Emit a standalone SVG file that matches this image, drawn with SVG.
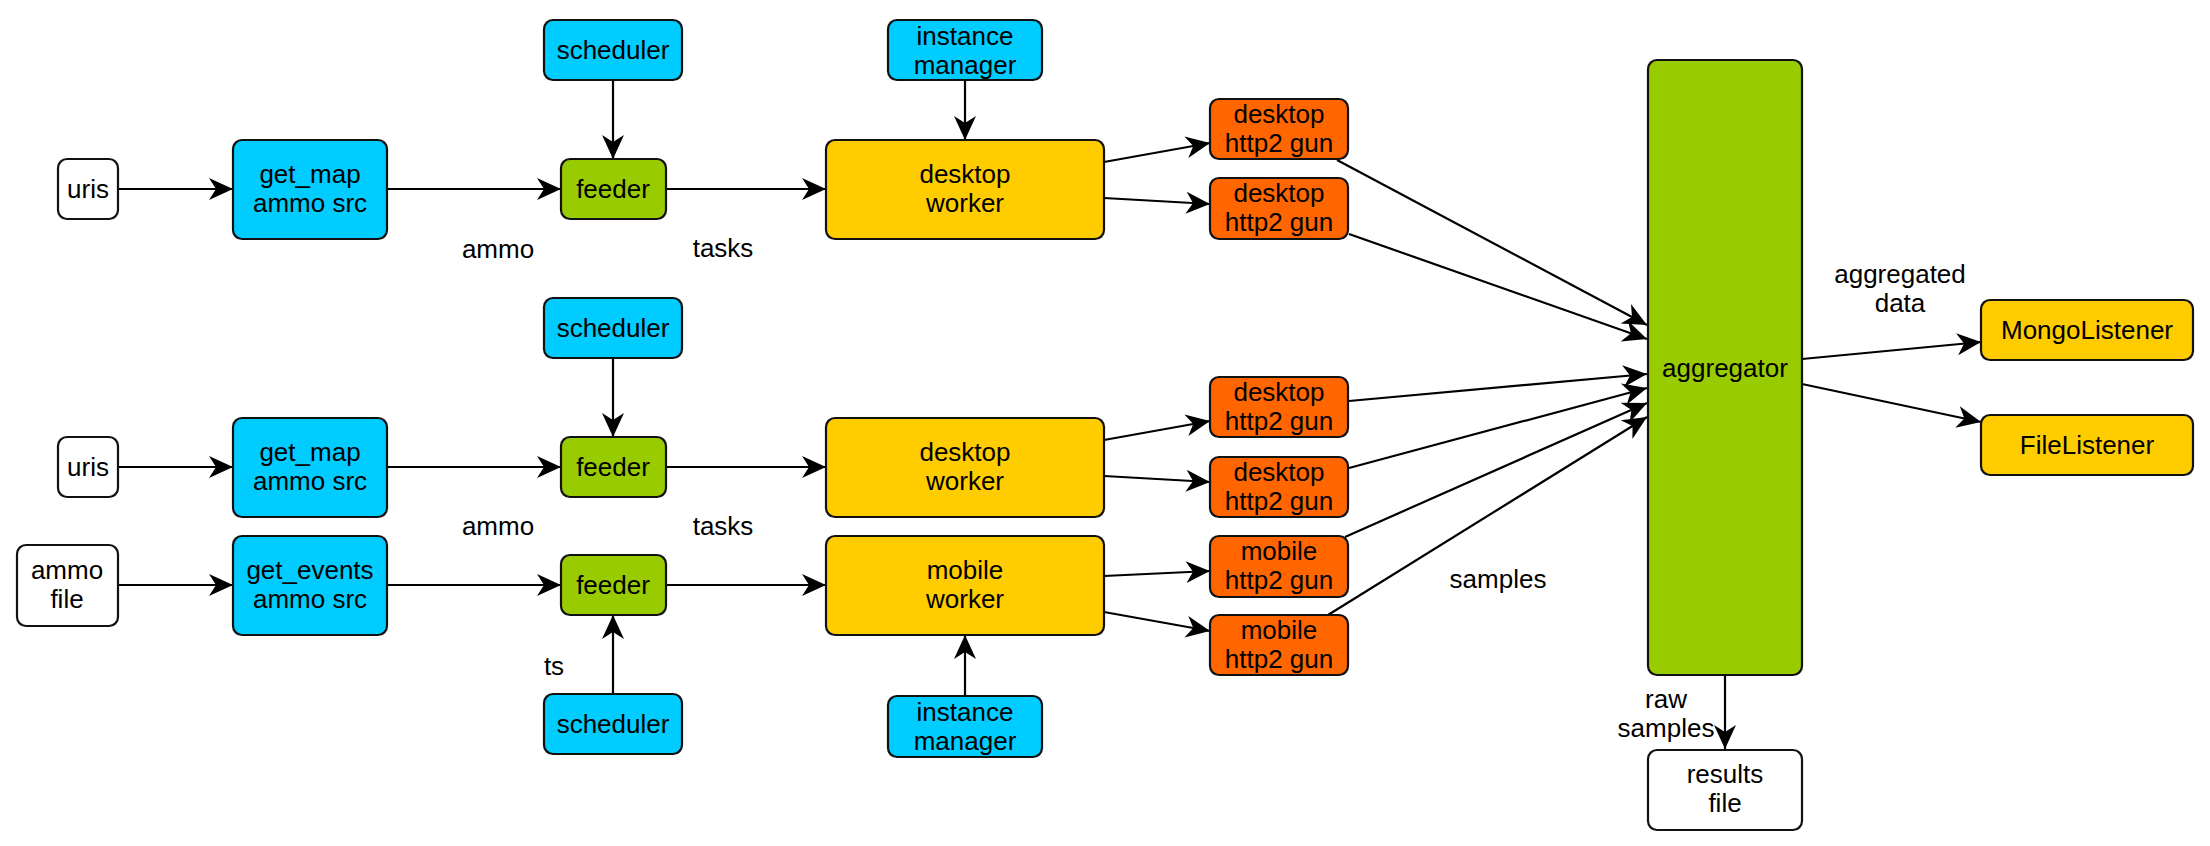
<svg xmlns="http://www.w3.org/2000/svg" width="2210" height="846" viewBox="0 0 2210 846">
<defs>
<marker id="ah" markerUnits="userSpaceOnUse" markerWidth="26" markerHeight="22" refX="24" refY="11" orient="auto" overflow="visible">
<path d="M0,0 L24,11 L0,22 L7,11 Z" fill="#000"/>
</marker>
<style>
.n rect{stroke:#111;stroke-width:2.2}
.w{fill:#fff}.c{fill:#00ccff}.g{fill:#99cc00}.o{fill:#ff6600}.y{fill:#ffcc00}
text{font-family:"Liberation Sans",Arial,sans-serif;font-size:26px;fill:#000;text-anchor:middle}
.e line{stroke:#000;stroke-width:2.2;marker-end:url(#ah)}
</style>
</defs>
<rect width="2210" height="846" fill="#fff"/>
<g class="e" id="connectors">
<line x1="118" y1="189" x2="233" y2="189"/>
<line x1="387" y1="189" x2="561" y2="189"/>
<line x1="666" y1="189" x2="826" y2="189"/>
<line x1="613" y1="80" x2="613" y2="159"/>
<line x1="965" y1="80" x2="965" y2="140"/>
<line x1="1104" y1="162" x2="1210" y2="143"/>
<line x1="1104" y1="198" x2="1210" y2="204"/>
<line x1="118" y1="467" x2="233" y2="467"/>
<line x1="387" y1="467" x2="561" y2="467"/>
<line x1="666" y1="467" x2="826" y2="467"/>
<line x1="613" y1="358" x2="613" y2="437"/>
<line x1="118" y1="585" x2="233" y2="585"/>
<line x1="387" y1="585" x2="561" y2="585"/>
<line x1="666" y1="585" x2="826" y2="585"/>
<line x1="613" y1="694" x2="613" y2="615"/>
<line x1="965" y1="696" x2="965" y2="635"/>
<line x1="1104" y1="440" x2="1210" y2="421"/>
<line x1="1104" y1="476" x2="1210" y2="482"/>
<line x1="1104" y1="576" x2="1210" y2="571"/>
<line x1="1104" y1="612" x2="1210" y2="631"/>
<line x1="1337" y1="160" x2="1647" y2="325"/>
<line x1="1349" y1="234" x2="1647" y2="339"/>
<line x1="1349" y1="401" x2="1647" y2="374"/>
<line x1="1349" y1="468" x2="1647" y2="388"/>
<line x1="1345" y1="537" x2="1647" y2="403"/>
<line x1="1328" y1="615" x2="1647" y2="417"/>
<line x1="1802" y1="359" x2="1981" y2="342"/>
<line x1="1802" y1="384" x2="1981" y2="422"/>
<line x1="1725" y1="675" x2="1725" y2="749"/>
</g>
<g id="edge-labels">
<text x="498" y="258">ammo</text>
<text x="723" y="257">tasks</text>
<text x="498" y="535">ammo</text>
<text x="723" y="535">tasks</text>
<text x="554" y="675">ts</text>
<text x="1498" y="588">samples</text>
<text x="1900" y="283">aggregated</text>
<text x="1900" y="312">data</text>
<text x="1666" y="708">raw</text>
<text x="1666" y="737">samples</text>
</g>
<g class="n" id="uris1"><rect class="w" x="58" y="159" width="60" height="60" rx="9"/><text x="88" y="198">uris</text></g>
<g class="n" id="getmap1"><rect class="c" x="233" y="140" width="154" height="99" rx="9"/><text x="310" y="183">get_map</text><text x="310" y="212">ammo src</text></g>
<g class="n" id="scheduler1"><rect class="c" x="544" y="20" width="138" height="60" rx="9"/><text x="613" y="59">scheduler</text></g>
<g class="n" id="feeder1"><rect class="g" x="561" y="159" width="105" height="60" rx="9"/><text x="613" y="198">feeder</text></g>
<g class="n" id="im1"><rect class="c" x="888" y="20" width="154" height="60" rx="9"/><text x="965" y="45">instance</text><text x="965" y="74">manager</text></g>
<g class="n" id="worker1"><rect class="y" x="826" y="140" width="278" height="99" rx="9"/><text x="965" y="183">desktop</text><text x="965" y="212">worker</text></g>
<g class="n" id="gun1"><rect class="o" x="1210" y="99" width="138" height="60" rx="9"/><text x="1279" y="123">desktop</text><text x="1279" y="152">http2 gun</text></g>
<g class="n" id="gun2"><rect class="o" x="1210" y="178" width="138" height="61" rx="9"/><text x="1279" y="202">desktop</text><text x="1279" y="231">http2 gun</text></g>
<g class="n" id="uris2"><rect class="w" x="58" y="437" width="60" height="60" rx="9"/><text x="88" y="476">uris</text></g>
<g class="n" id="getmap2"><rect class="c" x="233" y="418" width="154" height="99" rx="9"/><text x="310" y="461">get_map</text><text x="310" y="490">ammo src</text></g>
<g class="n" id="scheduler2"><rect class="c" x="544" y="298" width="138" height="60" rx="9"/><text x="613" y="337">scheduler</text></g>
<g class="n" id="feeder2"><rect class="g" x="561" y="437" width="105" height="60" rx="9"/><text x="613" y="476">feeder</text></g>
<g class="n" id="worker2"><rect class="y" x="826" y="418" width="278" height="99" rx="9"/><text x="965" y="461">desktop</text><text x="965" y="490">worker</text></g>
<g class="n" id="ammofile"><rect class="w" x="17" y="545" width="101" height="81" rx="9"/><text x="67" y="579">ammo</text><text x="67" y="608">file</text></g>
<g class="n" id="getevents"><rect class="c" x="233" y="536" width="154" height="99" rx="9"/><text x="310" y="579">get_events</text><text x="310" y="608">ammo src</text></g>
<g class="n" id="feeder3"><rect class="g" x="561" y="555" width="105" height="60" rx="9"/><text x="613" y="594">feeder</text></g>
<g class="n" id="scheduler3"><rect class="c" x="544" y="694" width="138" height="60" rx="9"/><text x="613" y="733">scheduler</text></g>
<g class="n" id="worker3"><rect class="y" x="826" y="536" width="278" height="99" rx="9"/><text x="965" y="579">mobile</text><text x="965" y="608">worker</text></g>
<g class="n" id="im2"><rect class="c" x="888" y="696" width="154" height="61" rx="9"/><text x="965" y="721">instance</text><text x="965" y="750">manager</text></g>
<g class="n" id="gun3"><rect class="o" x="1210" y="377" width="138" height="60" rx="9"/><text x="1279" y="401">desktop</text><text x="1279" y="430">http2 gun</text></g>
<g class="n" id="gun4"><rect class="o" x="1210" y="457" width="138" height="60" rx="9"/><text x="1279" y="481">desktop</text><text x="1279" y="510">http2 gun</text></g>
<g class="n" id="gun5"><rect class="o" x="1210" y="536" width="138" height="61" rx="9"/><text x="1279" y="560">mobile</text><text x="1279" y="589">http2 gun</text></g>
<g class="n" id="gun6"><rect class="o" x="1210" y="615" width="138" height="60" rx="9"/><text x="1279" y="639">mobile</text><text x="1279" y="668">http2 gun</text></g>
<g class="n" id="aggregator"><rect class="g" x="1648" y="60" width="154" height="615" rx="9"/><text x="1725" y="377">aggregator</text></g>
<g class="n" id="mongo"><rect class="y" x="1981" y="300" width="212" height="60" rx="9"/><text x="2087" y="339">MongoListener</text></g>
<g class="n" id="filelistener"><rect class="y" x="1981" y="415" width="212" height="60" rx="9"/><text x="2087" y="454">FileListener</text></g>
<g class="n" id="results"><rect class="w" x="1648" y="750" width="154" height="80" rx="9"/><text x="1725" y="783">results</text><text x="1725" y="812">file</text></g>
</svg>
